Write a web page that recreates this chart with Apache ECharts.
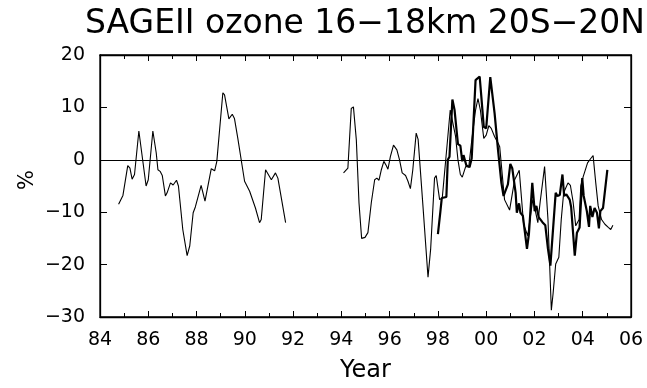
<!DOCTYPE html>
<html>
<head>
<meta charset="utf-8">
<script src="https://cdn.jsdelivr.net/npm/echarts@6/dist/echarts.min.js"></script>
<style>
  html, body { margin: 0; padding: 0; background: #fff; }
  #chart { width: 647px; height: 388px; }
</style>
</head>
<body>
<div id="chart"></div>
<script>
// Two-digit year axis: 84 .. 106 stands for 1984 .. 2006
const xTickValues = [84, 86, 88, 90, 92, 94, 96, 98, 100, 102, 104, 106];
const xTickLabels = ['84', '86', '88', '90', '92', '94', '96', '98', '00', '02', '04', '06'];
const yTickValues = [-30, -20, -10, 0, 10, 20];
const yTickLabels = ['\u221230', '\u221220', '\u221210', '0', '10', '20'];

// SAGE II record before the Pinatubo gap (thin line)
const sageEarlyYears = [84.77, 84.95, 85.15, 85.24, 85.33, 85.43, 85.61, 85.68, 85.91, 86.0,
  86.19, 86.33, 86.4, 86.49, 86.58, 86.71, 86.78, 86.92, 87.03, 87.17,
  87.25, 87.43, 87.61, 87.72, 87.86, 87.95, 88.03, 88.19, 88.25, 88.35,
  88.43, 88.61, 88.75, 88.84, 89.09, 89.16, 89.34, 89.48, 89.57, 89.71,
  89.99, 90.2, 90.44, 90.61, 90.68, 90.86, 90.93, 91.1, 91.27, 91.37, 91.69];
const sageEarlyValues = [-8.5, -6.8, -1.1, -1.6, -3.7, -2.8, 5.5, 5.4, -5.0, -3.8,
  5.5, 1.3, -1.9, -2.2, -3.0, -6.9, -6.3, -4.4, -4.8, -3.9,
  -5.0, -13.3, -18.3, -16.4, -10.1, -9.0, -8.8, -4.9, -5.1, -7.9,
  -7.9, -1.7, -2.1, -0.3, 12.8, 12.4, 7.8, 8.7, 7.9, 4.1,
  -4.1, -6.0, -9.2, -12.0, -11.4, -1.9, -1.6, -3.8, -2.5, -3.5, -12.0];

// SAGE II record after the gap (thin line)
const sageLateYears = [94.09, 94.17, 94.27, 94.41, 94.5, 94.62, 94.73, 94.84, 94.98, 95.1,
  95.24, 95.38, 95.47, 95.56, 95.65, 95.76, 95.86, 95.93, 96.03, 96.16,
  96.3, 96.41, 96.52, 96.66, 96.76, 96.86, 96.96, 97.1, 97.18, 97.38,
  97.59, 97.7, 97.86, 97.93, 98.07, 98.18, 98.35, 98.51, 98.58, 98.73,
  98.83, 98.93, 99.01, 99.15, 99.28, 99.42, 99.56, 99.66, 99.76, 99.9,
  100.0, 100.11, 100.21, 100.35, 100.49, 100.56, 100.76, 100.97, 101.18, 101.37,
  101.55, 101.72, 101.93, 102.04, 102.14, 102.24, 102.42, 102.56, 102.7, 102.77,
  102.88, 103.01, 103.11, 103.21, 103.39, 103.49, 103.6, 103.71, 103.85, 103.92,
  104.02, 104.2, 104.34, 104.43, 104.54, 104.64, 104.78, 104.92, 105.06, 105.16, 105.25];
const sageLateValues = [-2.5, -2.7, -1.6, 9.8, 10.1, 3.8, -8.2, -15.0, -14.8, -13.9,
  -8.2, -3.8, -3.5, -3.9, -2.0, -0.3, -1.1, -1.8, 0.6, 2.8,
  1.9, 0.0, -2.5, -3.0, -4.1, -5.5, -1.9, 5.1, 3.9, -8.8,
  -22.4, -17.0, -3.5, -3.0, -7.6, -7.3, 1.3, 9.5, 9.3, 4.5,
  0.0, -2.8, -3.3, -1.3, -1.3, 4.4, 9.5, 11.7, 9.5, 4.1,
  4.7, 6.5, 6.0, 4.4, 3.2, 2.5, -7.6, -9.6, -3.8, -2.0,
  -12.3, -14.5, -7.6, -9.8, -12.0, -7.9, -1.3, -11.4, -28.7, -25.6,
  -19.9, -18.6, -11.4, -6.3, -4.4, -4.9, -8.0, -12.6, -11.4, -5.0,
  -3.2, -0.6, 0.3, 0.8, -4.4, -8.8, -11.4, -12.3, -12.9, -13.3, -12.5];

// Second record, 1998 onwards (thick line)
const otherYears = [98.0, 98.1, 98.16, 98.35, 98.41, 98.48, 98.6, 98.69, 98.83, 98.93,
  99.01, 99.06, 99.18, 99.31, 99.4, 99.56, 99.73, 99.8, 99.9, 100.0,
  100.17, 100.35, 100.49, 100.63, 100.72, 100.8, 100.9, 101.0, 101.08, 101.22,
  101.27, 101.36, 101.42, 101.52, 101.69, 101.77, 101.91, 102.01, 102.08, 102.18,
  102.33, 102.45, 102.56, 102.66, 102.73, 102.88, 102.95, 103.05, 103.16, 103.23,
  103.32, 103.46, 103.52, 103.67, 103.76, 103.87, 103.98, 104.04, 104.12, 104.17,
  104.26, 104.31, 104.4, 104.49, 104.59, 104.67, 104.73, 104.84, 105.02];
const otherValues = [-14.2, -10.0, -7.3, -7.1, 0.0, 0.6, 11.5, 9.5, 3.0, 2.7,
  -0.3, 0.9, -1.1, -1.4, 0.3, 15.2, 15.9, 12.0, 6.3, 6.0,
  15.8, 8.8, 1.9, -4.4, -6.9, -6.6, -4.7, -0.8, -1.6, -6.3,
  -10.1, -8.3, -10.1, -10.7, -17.0, -14.2, -4.4, -9.8, -8.8, -11.0,
  -11.9, -12.5, -17.0, -20.2, -20.0, -6.3, -6.9, -6.7, -2.8, -6.9,
  -6.6, -7.6, -9.0, -18.3, -13.9, -12.9, -3.5, -6.9, -6.6, -9.8,
  -12.8, -8.8, -10.9, -9.2, -10.1, -13.1, -9.8, -9.2, -1.9];

const zip = (xs, ys) => xs.map((x, i) => [x, ys[i]]);

const FONT = "'DejaVu Sans', sans-serif";
const INK = '#000';

const xLabel = v => {
  const i = xTickValues.indexOf(Math.round(v));
  return i >= 0 ? xTickLabels[i] : '';
};
const yLabel = v => {
  const i = yTickValues.indexOf(Math.round(v));
  return i >= 0 ? yTickLabels[i] : '';
};

const xCommon = {
  type: 'value', min: 84, max: 106, interval: 2,
  axisLine: { show: true, onZero: false, lineStyle: { color: INK, width: 1.3 } },
  axisTick: { show: true, inside: true, length: 6, lineStyle: { color: INK, width: 1 } },
  minorTick: { show: true, splitNumber: 2, length: 4, lineStyle: { color: INK, width: 1 } },
  splitLine: { show: false },
  minorSplitLine: { show: false }
};
const yCommon = {
  type: 'value', min: -30, max: 20, interval: 10,
  axisLine: { show: true, onZero: false, lineStyle: { color: INK, width: 1.3 } },
  axisTick: { show: true, inside: true, length: 7, lineStyle: { color: INK, width: 1 } },
  splitLine: { show: false }
};

const chart = echarts.init(document.getElementById('chart'), null, { renderer: 'canvas' });
chart.setOption({
  animation: false,
  backgroundColor: '#fff',
  title: {
    text: 'SAGEII ozone 16\u221218km 20S\u221220N',
    left: 360, top: 3, textAlign: 'center',
    textStyle: { fontFamily: FONT, fontSize: 33, fontWeight: 'normal', color: INK }
  },
  // the box around the plot
  grid: {
    left: 100, top: 55, width: 531, height: 264, containLabel: false,
    show: true, borderColor: INK, borderWidth: 1.3, backgroundColor: 'transparent'
  },
  xAxis: [
    Object.assign({}, xCommon, {
      position: 'bottom',
      name: 'Year', nameLocation: 'middle', nameGap: 42,
      nameTextStyle: { fontFamily: FONT, fontSize: 24, color: INK },
      axisLabel: { margin: 14, formatter: xLabel, fontFamily: FONT, fontSize: 19, color: INK }
    }),
    Object.assign({}, xCommon, { position: 'top', axisLabel: { show: false } })
  ],
  yAxis: [
    Object.assign({}, yCommon, {
      position: 'left',
      axisLabel: { margin: 15, formatter: yLabel, fontFamily: FONT, fontSize: 19, color: INK }
    }),
    Object.assign({}, yCommon, { position: 'right', axisLabel: { show: false } })
  ],
  graphic: [{
    type: 'text', x: 28, y: 180, rotation: Math.PI / 2,
    style: { text: '%', fontFamily: FONT, fontSize: 21, fill: INK,
      align: 'center', verticalAlign: 'middle' }
  }],
  series: [
    {
      name: 'SAGE II 1984-1991', type: 'line', xAxisIndex: 0, yAxisIndex: 0,
      data: zip(sageEarlyYears, sageEarlyValues),
      showSymbol: false, lineStyle: { color: INK, width: 1.1 }, z: 3,
      markLine: {
        silent: true, symbol: 'none', label: { show: false },
        lineStyle: { color: INK, width: 1.1, type: 'solid' },
        data: [{ yAxis: 0 }]
      }
    },
    {
      name: 'SAGE II 1994-2005', type: 'line', xAxisIndex: 1, yAxisIndex: 1,
      data: zip(sageLateYears, sageLateValues),
      showSymbol: false, lineStyle: { color: INK, width: 1.1 }, z: 3
    },
    {
      name: 'Second record', type: 'line', xAxisIndex: 0, yAxisIndex: 0,
      data: zip(otherYears, otherValues),
      showSymbol: false, lineStyle: { color: INK, width: 2.2 }, z: 4
    }
  ]
});
</script>
</body>
</html>
